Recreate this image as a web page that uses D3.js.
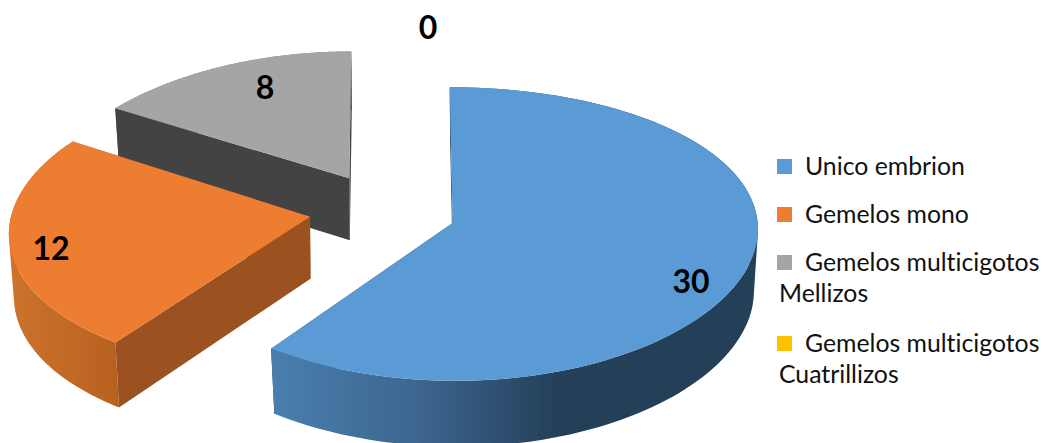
<!DOCTYPE html>
<html><head><meta charset="utf-8">
<style>html,body{margin:0;padding:0;background:#fff;overflow:hidden}svg{display:block}text{font-family:Lato,"Open Sans",sans-serif;font-variant-ligatures:none}</style>
<script src="https://cdn.jsdelivr.net/npm/d3@7"></script>
</head><body><svg id="c" width="1045" height="443"></svg>
<script>
const categories = ["Unico embrion","Gemelos mono","Gemelos multicigotos Mellizos","Gemelos multicigotos Cuatrillizos"];
const values = [30,12,8,0];
const topColors = ["#5b9bd5","#ed7d31","#a5a5a5","#ffc000"];
const cutColors = ["#243f58","#9b5120","#434343","#7f6000"];

(function(){
const svg=d3.select("#c");
const color=d3.scaleOrdinal(categories,topColors);
const cut=d3.scaleOrdinal(categories,cutColors);

// projection of each exploded slice of the tilted disc
const proj=[
 {ax:452.7,ay:223,R:305,tR:146,kx:.032,ky:.075,sk:3},
 {ax:310,ay:216.7,R:299,tR:146,kx:.119,ky:.075,sk:0},
 {ax:349.3,ay:178.3,R:300,tR:135,kx:.144,ky:.064,sk:-2}
];
const DEPTH=62,SX=.985,SY=1.024;
function upper(p,a){const u=Math.sin(a),v=-Math.cos(a);
  return [p.ax+p.R*u/(1-p.kx*v)+p.sk*v, p.ay+p.tR*v/(1-p.ky*v)];}
function lower(p,a){const q=upper(p,a);
  return [p.ax+(q[0]-p.ax)*SX+.5, p.ay+DEPTH+(q[1]-p.ay)*SY];}
const line=d3.line();

const defs=svg.append("defs");
const rimGrad=[
 {x1:272,x2:560,stops:["#4a7fae","#3d6690","#243f58"]},
 {x1:10,x2:118,stops:["#cc732c","#c26a26","#b8611f"]},
 {x1:100,x2:360,stops:["#7f7f7f","#7f7f7f","#7f7f7f"]}
];
rimGrad.forEach((g,i)=>{
  const lg=defs.append("linearGradient").attr("id","rim"+i).attr("gradientUnits","userSpaceOnUse")
    .attr("x1",g.x1).attr("x2",g.x2).attr("y1",0).attr("y2",0);
  g.stops.forEach((s,j)=>lg.append("stop").attr("offset",j/(g.stops.length-1)).attr("stop-color",s));
});

// the rim is a run of same-wound quads so that its silhouette has no fold
function rimPath(p,angles){
  return d3.pairs(angles).map(([a,b])=>{
    const quad=[upper(p,a),upper(p,b),lower(p,b),lower(p,a)];
    if(d3.polygonArea(quad)<0) quad.reverse();
    return line(quad)+"Z";
  }).join("");
}

const arcs=d3.pie().sort(null).startAngle(0).endAngle(2*Math.PI)(values);
const order=[2,1,0];
order.forEach(i=>{
  const d=arcs[i],p=proj[i],cat=categories[i];
  const angles=d3.range(0,121).map(k=>d.startAngle+(d.endAngle-d.startAngle)*k/120);
  const g=svg.append("g");
  const apexT=[p.ax,p.ay],apexB=[p.ax+.5,p.ay+DEPTH];
  const drawCuts=()=>[d.startAngle,d.endAngle].forEach(a=>{
    g.append("path").attr("fill",cut(cat))
     .attr("d",line([apexT,upper(p,a),lower(p,a),apexB])+"Z");
  });
  const drawRim=()=>g.append("path").attr("fill","url(#rim"+i+")").attr("d",rimPath(p,angles));
  // a slice wider than a half turn hides its cut faces behind its rim
  if(d.endAngle-d.startAngle>Math.PI){drawCuts();drawRim();}
  else{drawRim();drawCuts();}
  // upper surface
  g.append("path").attr("fill",color(cat))
   .attr("d",line([apexT].concat(angles.map(a=>upper(p,a))))+"Z");
});

// data labels
const labelAnchors=[[691,293],[51,260],[265,99],[428,39]];
svg.append("g").selectAll("text").data(values).join("text")
  .attr("x",(d,i)=>labelAnchors[i][0]).attr("y",(d,i)=>labelAnchors[i][1])
  .attr("text-anchor","middle").attr("font-weight",700).attr("font-size",32).attr("fill","#000")
  .text(d=>d);

// legend
const legendLines=[["Unico embrion"],["Gemelos mono"],["Gemelos multicigotos","Mellizos"],["Gemelos multicigotos","Cuatrillizos"]];
const swatchY=[159,207,255,336];
const firstBase=[175,223,271,352];
const lg=svg.append("g");
categories.forEach((c,i)=>{
  lg.append("rect").attr("x",777).attr("y",swatchY[i]).attr("width",15).attr("height",15).attr("fill",color(c));
  legendLines[i].forEach((t,j)=>{
    lg.append("text").attr("x",j?779:805).attr("y",firstBase[i]+j*31)
      .attr("font-size",24.8).attr("fill","#111").text(t);
  });
});
})();
</script></body></html>
